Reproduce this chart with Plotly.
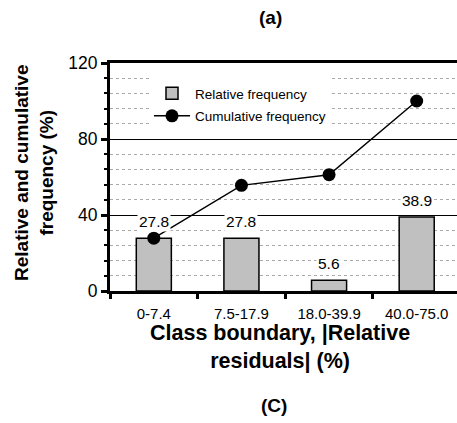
import plotly.graph_objects as go

categories = ["0-7.4", "7.5-17.9", "18.0-39.9", "40.0-75.0"]
relative_freq = [27.8, 27.8, 5.6, 38.9]
cumulative_freq = [27.8, 55.6, 61.2, 100.0]
label_text = ["27.8", "27.8", "5.6", "38.9"]

FONT = "Liberation Sans, Arial, sans-serif"
W, H = 457, 423
ml, mt, mb, mr = 110, 63, 132, 0
pw = W - ml - mr
ph = H - mt - mb

def px_x(px):
    return (px - ml) / pw

def px_y(py):
    return 1 - (py - mt) / ph

fig = go.Figure()
fig.add_trace(go.Bar(
    x=categories, y=relative_freq, name="Relative frequency", legendgroup="a",
    width=0.4, marker=dict(color="#c0c0c0", line=dict(color="black", width=1.5)),
))
fig.add_trace(go.Scatter(
    x=categories, y=cumulative_freq, name="Cumulative frequency", legendgroup="b",
    mode="lines+markers", line=dict(color="black", width=1.5),
    marker=dict(color="black", size=13),
))

annotations = []
for c, v, t in zip(categories, relative_freq, label_text):
    annotations.append(dict(x=c, y=v, xref="x", yref="y", text=t, showarrow=False,
                            yshift=17, font=dict(family=FONT, size=15.5, color="black"),
                            bgcolor="white", borderpad=1))

annotations += [
    dict(text="<b>Relative and cumulative<br>frequency (%)</b>", textangle=-90,
         xref="paper", yref="paper", x=px_x(34), y=px_y(173), xanchor="center", yanchor="middle",
         showarrow=False, font=dict(family=FONT, size=19, color="black")),
    dict(text="<b>Class boundary, |Relative<br>residuals| (%)</b>",
         xref="paper", yref="paper", x=px_x(280), y=px_y(347), xanchor="center", yanchor="middle",
         showarrow=False, font=dict(family=FONT, size=21.5, color="black")),
    dict(text="<b>(C)</b>", xref="paper", yref="paper", x=px_x(274),
         y=px_y(405), xanchor="center", yanchor="middle",
         showarrow=False, font=dict(family=FONT, size=19, color="black")),
    dict(text="<b>(a)</b>", xref="paper", yref="paper", x=px_x(270),
         y=px_y(18), xanchor="center", yanchor="middle",
         showarrow=False, font=dict(family=FONT, size=19, color="black")),
]

fig.update_layout(
    width=W, height=H, margin=dict(l=ml, r=mr, t=mt, b=mb),
    paper_bgcolor="white", plot_bgcolor="white",
    font=dict(family=FONT, color="black"),
    showlegend=True,
    legend=dict(x=px_x(149), y=px_y(78), xanchor="left", yanchor="top",
                bgcolor="white", borderwidth=0, font=dict(family=FONT, size=13.5, color="black"),
                itemwidth=36, traceorder="grouped", tracegroupgap=2),
    annotations=annotations,
)
fig.update_xaxes(
    range=[-0.5, 3.46], showline=True, linecolor="black", linewidth=3, mirror=True,
    ticks="outside", tickson="boundaries", ticklen=5, tickwidth=3, tickcolor="black",
    ticklabelstandoff=7,
    tickfont=dict(family=FONT, size=15, color="black"), showgrid=False, zeroline=False,
)
fig.update_yaxes(
    range=[0, 120], tickvals=[0, 40, 80, 120], showline=True, linecolor="black", linewidth=3,
    ticks="outside", ticklen=6, tickwidth=3, tickcolor="black",
    tickfont=dict(family=FONT, size=17.5, color="black"),
    showgrid=True, gridcolor="black", gridwidth=1, zeroline=False,
    minor=dict(dtick=8, showgrid=True, gridcolor="#aaaaaa", griddash="dot", gridwidth=1,
               ticks="outside", ticklen=3, tickwidth=2, tickcolor="black"),
)

fig.write_html("out.html")
